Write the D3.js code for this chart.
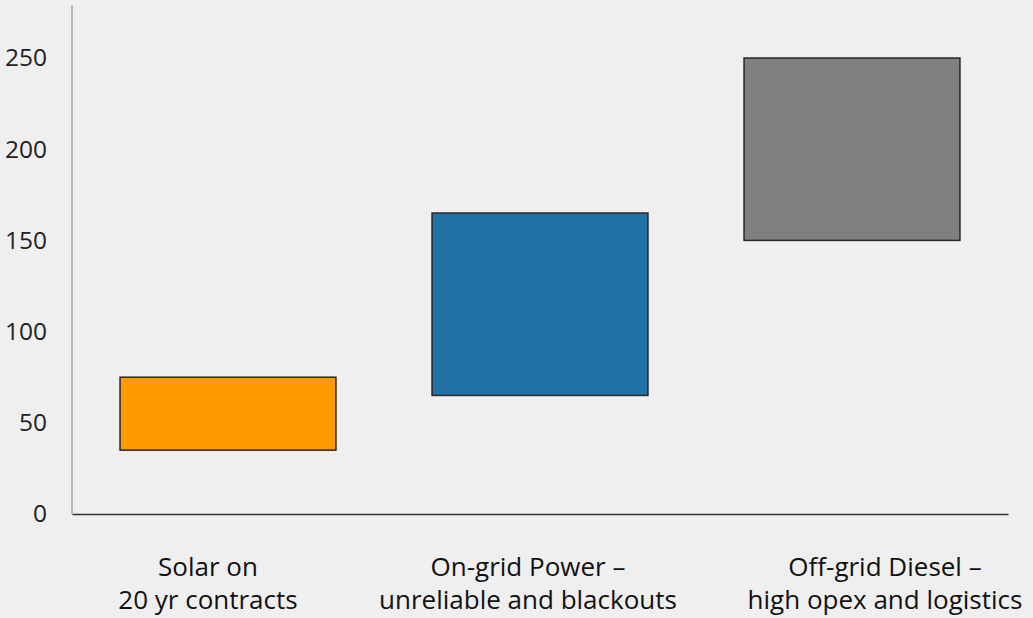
<!DOCTYPE html>
<html><head><meta charset="utf-8">
<script src="https://cdn.jsdelivr.net/npm/d3@7/dist/d3.min.js"></script>
<style>
html,body{margin:0;padding:0;background:#efefef;}
svg{display:block;font-family:"Open Sans",sans-serif;}
</style></head>
<body>
<svg id="c" width="1033" height="618"></svg>
<script>
const categories = ["Solar on\n20 yr contracts", "On-grid Power –\nunreliable and blackouts", "Off-grid Diesel –\nhigh opex and logistics"];
const lowValues = [35, 65, 150];
const highValues = [75, 165, 250];
const colors = ["#ff9900", "#2272a6", "#808080"];
const yTicks = [0, 50, 100, 150, 200, 250];

const W = 1033, H = 618;
const m = {left: 72, right: 25, top: 5, bottom: 104};
const labelShift = [-20, -12, 33];

const svg = d3.select("#c");
svg.append("rect").attr("width", W).attr("height", H).attr("fill", "#efefef");

const x = d3.scaleBand().domain(categories).range([m.left, W - m.right]).paddingInner(0.308).paddingOuter(0.154);
const y = d3.scaleLinear().domain([0, 250]).range([H - m.bottom, H - m.bottom - 456]);

// y axis
const ya = svg.append("g").attr("transform", `translate(${m.left},0)`)
  .call(d3.axisLeft(y).tickValues(yTicks).tickSize(0).tickPadding(25));
ya.select(".domain").remove();
ya.selectAll("text").attr("font-size", 24.5).attr("fill", "#222").attr("font-family", "Open Sans");
svg.append("line").attr("x1", m.left).attr("x2", m.left).attr("y1", m.top).attr("y2", y(0))
  .attr("stroke", "#a6a6a6").attr("stroke-width", 1.5);

// bars
svg.selectAll("rect.bar").data(categories).join("rect").attr("class", "bar")
  .attr("x", d => x(d)).attr("width", x.bandwidth())
  .attr("y", (d, i) => y(highValues[i]))
  .attr("height", (d, i) => y(lowValues[i]) - y(highValues[i]))
  .attr("fill", (d, i) => colors[i]).attr("stroke", "#262626").attr("stroke-width", 1.5);

// x axis
const xa = svg.append("g").attr("transform", `translate(0,${y(0)})`)
  .call(d3.axisBottom(x).tickSize(0).tickFormat(""));
xa.select(".domain").attr("stroke", "#333").attr("stroke-width", 1.5);

const lab = svg.append("g");
categories.forEach((c, i) => {
  const cx = x(c) + x.bandwidth() / 2 + labelShift[i];
  const t = lab.append("text").attr("text-anchor", "middle").attr("font-size", 26).attr("fill", "#111").attr("x", cx);
  c.split("\n").forEach((s, j) => {
    t.append("tspan").attr("x", cx).attr("y", 576 + j * 33).text(s);
  });
});
</script>
</body></html>
